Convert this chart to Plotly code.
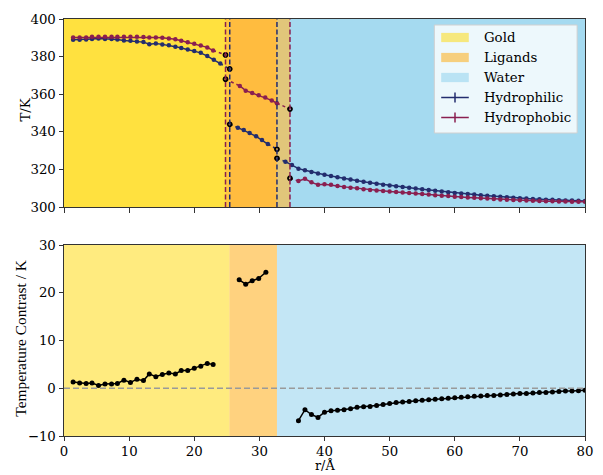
import plotly.graph_objects as go

# ---------------- data ----------------
# Hydrophilic (top panel)
r_phil_gold = [1.4, 2.4, 3.4, 4.3, 5.3, 6.3, 7.3, 8.2, 9.2, 10.2, 11.2, 12.2, 13.1, 14.1, 15.1, 16.1, 17.1, 18.0, 19.0, 20.0, 21.0, 22.0, 23.0, 24.0]
T_phil_gold = [389.0, 389.0, 389.1, 389.4, 389.6, 389.4, 389.4, 389.1, 388.6, 388.4, 388.0, 387.7, 386.6, 387.0, 386.5, 386.0, 385.3, 384.6, 383.8, 383.0, 382.0, 380.3, 378.3, 376.3]
r_phil_lig = [26.7, 27.6, 28.5, 29.5, 30.4, 31.3]
T_phil_lig = [342.2, 340.9, 339.3, 337.6, 335.7, 333.5]
r_phil_wat = [34, 35, 36, 37, 38, 39, 40, 41, 42, 43, 44, 45, 46, 47, 48, 49, 50, 51, 52, 53, 54, 55, 56, 57, 58, 59, 60,
              61, 62, 63, 64, 65, 66, 67, 68, 69, 70, 71, 72, 73, 74, 75, 76, 77, 78, 79, 80]
T_phil_wat = [324.1, 322.3, 320.4, 319.5, 318.6, 317.8, 317.1, 316.5, 315.8, 315.2, 314.6, 314.0, 313.4, 312.9, 312.4,
              311.9, 311.4, 311.0, 310.6, 310.2, 309.8, 309.4, 309.0, 308.6, 308.2, 307.9, 307.5, 307.2, 306.9, 306.6,
              306.3, 306.0, 305.7, 305.4, 305.2, 304.9, 304.7, 304.5, 304.3, 304.1, 303.9, 303.8, 303.6, 303.5, 303.4,
              303.3, 303.2]
r_phil_bnd = [25.45, 25.45, 32.7, 32.7]
T_phil_bnd = [373.4, 344.0, 330.7, 325.9]

# Hydrophobic (top panel)
r_phob_gold = [1.4, 2.4, 3.4, 4.3, 5.3, 6.3, 7.3, 8.2, 9.2, 10.2, 11.2, 12.2, 13.1, 14.1, 15.1, 16.1, 17.1, 18.0, 19.0, 20.0, 21.0, 22.0, 22.9]
T_phob_gold = [390.2, 390.2, 390.2, 390.5, 390.5, 390.5, 390.5, 390.5, 390.5, 390.5, 390.5, 390.4, 390.2, 390.1, 390.0,
               389.6, 389.2, 388.4, 387.6, 386.9, 385.9, 384.9, 383.2]
r_phob_lig = [27.0, 27.9, 28.9, 29.9, 30.9, 31.9, 32.7]
T_phob_lig = [364.4, 361.9, 360.6, 359.4, 358.3, 356.7, 355.2]
r_phob_wat = [36, 37, 38, 39, 40, 41, 42, 43, 44, 45, 46, 47, 48, 49, 50, 51, 52, 53, 54, 55, 56, 57, 58, 59, 60,
              61, 62, 63, 64, 65, 66, 67, 68, 69, 70, 71, 72, 73, 74, 75, 76, 77, 78, 79, 80]
T_phob_wat = [313.8, 315.0, 313.1, 311.9, 312.1, 311.8, 311.2, 310.7, 310.3, 310.0, 309.5, 309.1, 308.8, 308.5, 308.2,
              308.0, 307.7, 307.4, 307.2, 306.9, 306.6, 306.3, 306.0, 305.8, 305.5, 305.3, 305.1, 304.9, 304.7, 304.5,
              304.2, 304.0, 303.9, 303.7, 303.6, 303.4, 303.3, 303.2, 303.0, 303.0, 302.9, 302.9, 302.8, 302.8, 302.8]
r_phob_bnd = [24.8, 24.8, 34.7, 34.7]
T_phob_bnd = [380.9, 368.0, 352.1, 315.3]

# Region boundaries (Å)
phil_bounds = [25.45, 32.7]
phob_bounds = [24.8, 34.7]
contrast_bounds = [25.4, 32.7]

# Temperature contrast (bottom panel)
r_c_gold = [1.4, 2.4, 3.4, 4.3, 5.3, 6.3, 7.3, 8.2, 9.2, 10.2, 11.2, 12.2, 13.1, 14.1, 15.1, 16.1, 17.1, 18.0, 19.0, 20.0, 21.0, 22.0, 22.9]
C_gold = [1.3, 1.1, 1.0, 1.1, 0.6, 0.9, 0.9, 1.0, 1.7, 1.2, 1.9, 1.6, 3.0, 2.4, 2.9, 3.2, 3.0, 3.7, 3.7, 4.2, 4.6, 5.2, 5.0]
r_c_lig = [26.9, 27.9, 28.9, 29.9, 31.0]
C_lig = [22.7, 21.8, 22.5, 23.0, 24.3]
r_c_wat = [36, 37, 38, 39, 40, 41, 42, 43, 44, 45, 46, 47, 48, 49, 50, 51, 52, 53, 54, 55, 56, 57, 58, 59, 60,
           61, 62, 63, 64, 65, 66, 67, 68, 69, 70, 71, 72, 73, 74, 75, 76, 77, 78, 79, 80]
C_wat = [-6.8, -4.5, -5.5, -6.1, -5.0, -4.7, -4.6, -4.5, -4.3, -4.0, -3.9, -3.8, -3.6, -3.4, -3.2, -3.0, -2.9, -2.8,
         -2.6, -2.5, -2.4, -2.3, -2.2, -2.1, -2.0, -1.9, -1.8, -1.7, -1.6, -1.5, -1.5, -1.4, -1.3, -1.2, -1.1, -1.1,
         -1.0, -0.9, -0.9, -0.8, -0.7, -0.6, -0.6, -0.5, -0.4]

legend_labels = ["Gold", "Ligands", "Water", "Hydrophilic", "Hydrophobic"]
x_ticks = [0, 10, 20, 30, 40, 50, 60, 70, 80]
T_ticks = [300, 320, 340, 360, 380, 400]
C_ticks = [-10, 0, 10, 20, 30]

# ---------------- style ----------------
NAVY = "#232d6e"
MAROON = "#8a1f50"
GOLD = "rgba(255,215,0,0.5)"
ORANGE = "rgba(255,165,0,0.5)"
SKY = "rgba(135,206,235,0.5)"
FONT = "DejaVu Serif"
FS = 13.3

W, H = 603, 475
L, R, T, B = 64, 10, 19, 39
PW, PH = W - L - R, H - T - B


def fx(px):
    return (px - L) / PW


def fy(py):
    return (H - B - py) / PH


fig = go.Figure()


def series(x, y, color, xa, ya, dot=False, size=4.5):
    fig.add_trace(go.Scatter(
        x=x, y=y, mode="lines" if dot else "lines+markers",
        line=dict(color=color, width=1.5, dash="dot" if dot else "solid"),
        marker=dict(size=size, color=color),
        xaxis=xa, yaxis=ya, showlegend=False, hoverinfo="skip"))


# top panel series
for (rg, tg, rl, tl, rw, tw, rb, tb, col) in [
    (r_phil_gold, T_phil_gold, r_phil_lig, T_phil_lig, r_phil_wat, T_phil_wat, r_phil_bnd, T_phil_bnd, NAVY),
    (r_phob_gold, T_phob_gold, r_phob_lig, T_phob_lig, r_phob_wat, T_phob_wat, r_phob_bnd, T_phob_bnd, MAROON),
]:
    series([rg[-1], rb[0]], [tg[-1], tb[0]], col, "x", "y", dot=True)
    series([rb[1], rl[0]], [tb[1], tl[0]], col, "x", "y", dot=True)
    series([rl[-1], rb[2]], [tl[-1], tb[2]], col, "x", "y", dot=True)
    series([rb[3], rw[0]], [tb[3], tw[0]], col, "x", "y", dot=True)
    series(rg, tg, col, "x", "y")
    series(rl, tl, col, "x", "y")
    series(rw, tw, col, "x", "y")

for (rb, tb) in [(r_phil_bnd, T_phil_bnd), (r_phob_bnd, T_phob_bnd)]:
    fig.add_trace(go.Scatter(x=rb, y=tb, mode="markers",
                             marker=dict(symbol="circle-open", size=4, color="black", line=dict(width=1.8)),
                             xaxis="x", yaxis="y", showlegend=False, hoverinfo="skip"))

# bottom panel series
series(r_c_gold, C_gold, "black", "x2", "y2", size=5)
series(r_c_lig, C_lig, "black", "x2", "y2", size=5)
series(r_c_wat, C_wat, "black", "x2", "y2", size=5)

shapes = []
for b in (phil_bounds, phob_bounds):
    for x0, x1, c in [(0, b[0], GOLD), (b[0], b[1], ORANGE), (b[1], 80, SKY)]:
        shapes.append(dict(type="rect", xref="x", yref="y domain", x0=x0, x1=x1, y0=0, y1=1,
                           fillcolor=c, line=dict(width=0), layer="below"))
b = contrast_bounds
for x0, x1, c in [(0, b[0], GOLD), (b[0], b[1], ORANGE), (b[1], 80, SKY)]:
    shapes.append(dict(type="rect", xref="x2", yref="y2 domain", x0=x0, x1=x1, y0=0, y1=1,
                       fillcolor=c, line=dict(width=0), layer="below"))
for xv, c in [(phob_bounds[0], MAROON), (phil_bounds[0], NAVY), (phil_bounds[1], NAVY), (phob_bounds[1], MAROON)]:
    shapes.append(dict(type="line", xref="x", yref="y domain", x0=xv, x1=xv, y0=0, y1=1,
                       line=dict(color=c, width=1.5, dash="5px,2.5px"), layer="above"))
shapes.append(dict(type="line", xref="x2 domain", yref="y2", x0=0, x1=1, y0=0, y1=0,
                   line=dict(color="#9a9a9a", width=1.5, dash="6px,3px"), layer="above"))

# manual legend
shapes.append(dict(type="rect", xref="paper", yref="paper", x0=fx(440), x1=fx(585), y0=fy(25), y1=fy(133),
                   fillcolor="rgba(255,255,255,0.8)", line=dict(color="#d0d0d0", width=1), layer="above"))
ys = [37.5, 57.5, 77.5, 97.5, 117.5]
for yy, c in zip(ys[:3], [GOLD, ORANGE, SKY]):
    shapes.append(dict(type="rect", xref="paper", yref="paper", x0=fx(447), x1=fx(475), y0=fy(yy + 4.6),
                       y1=fy(yy - 4.6), fillcolor=c, line=dict(width=0), layer="above"))
for yy, c in zip(ys[3:], [NAVY, MAROON]):
    shapes.append(dict(type="line", xref="paper", yref="paper", x0=fx(447), x1=fx(475), y0=fy(yy), y1=fy(yy),
                       line=dict(color=c, width=1.5), layer="above"))
    shapes.append(dict(type="line", xref="paper", yref="paper", x0=fx(461), x1=fx(461), y0=fy(yy + 5),
                       y1=fy(yy - 5), line=dict(color=c, width=1.5), layer="above"))

annotations = []
for yy, lab in zip(ys, legend_labels):
    annotations.append(dict(xref="paper", yref="paper", x=fx(488), y=fy(yy), text=lab, showarrow=False,
                            xanchor="left", yanchor="middle", font=dict(family=FONT, size=FS, color="black")))
annotations.append(dict(xref="paper", yref="paper", x=fx(25), y=fy(110), text="T/K", textangle=-90,
                        showarrow=False, xanchor="center", yanchor="middle",
                        font=dict(family=FONT, size=FS, color="black")))
annotations.append(dict(xref="paper", yref="paper", x=fx(19), y=fy(338), text="Temperature Contrast / K",
                        textangle=-90, showarrow=False, xanchor="center", yanchor="middle",
                        font=dict(family="Liberation Serif", size=15.4, color="black")))
annotations.append(dict(xref="paper", yref="paper", x=fx(328.5), y=fy(475), text="r/Å",
                        showarrow=False, xanchor="center", yanchor="bottom",
                        font=dict(family=FONT, size=12.8, color="black")))

axis_common = dict(showline=True, linecolor="#333333", linewidth=1, mirror=True, ticks="outside",
                   tickwidth=1, tickcolor="#333333", showgrid=False, zeroline=False,
                   tickfont=dict(family=FONT, size=FS, color="black"))

fig.update_layout(
    width=W, height=H, margin=dict(l=L, r=R, t=T, b=B),
    paper_bgcolor="white", plot_bgcolor="white", showlegend=False,
    xaxis=dict(domain=[0, 1], range=[0, 80], tickvals=x_ticks, showticklabels=False, anchor="y",
               ticklen=4.5, **axis_common),
    yaxis=dict(domain=[(H - B - 207) / PH, 1], range=[300, 400], tickvals=T_ticks, anchor="x",
               ticklen=4.5, **axis_common),
    xaxis2=dict(domain=[0, 1], range=[0, 80], tickvals=x_ticks, anchor="y2", ticklen=3.5, **axis_common),
    yaxis2=dict(domain=[0, (H - B - 245) / PH], range=[-10, 30], tickvals=C_ticks, anchor="x2",
                ticklen=4.5, **axis_common),
    shapes=shapes, annotations=annotations,
)

fig.write_html("out.html")
